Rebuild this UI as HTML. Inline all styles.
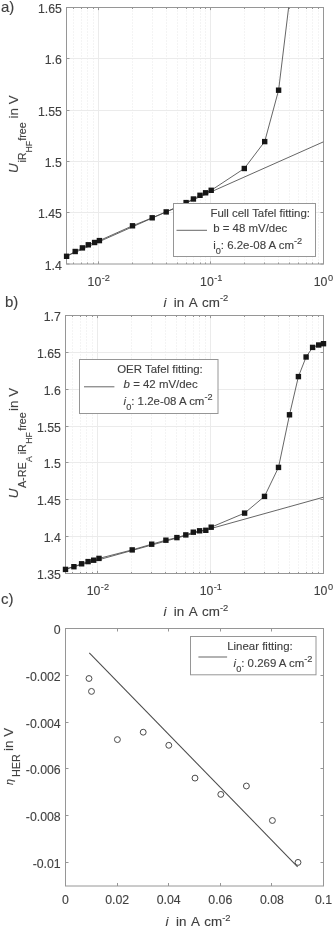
<!DOCTYPE html>
<html><head><meta charset="utf-8"><title>Tafel fitting</title>
<style>
html,body{margin:0;padding:0;background:#fff;}
svg{display:block;font-family:"Liberation Sans",sans-serif;filter:grayscale(1);}
text{stroke:#404040;stroke-width:0.22px;stroke-opacity:0.55;}
</style></head>
<body>
<svg width="335" height="928" viewBox="0 0 335 928">
<rect x="0" y="0" width="335" height="928" fill="#fff"/>
<line x1="73.50" y1="7.5" x2="73.50" y2="264" stroke="#e9e9e9" stroke-width="1" stroke-dasharray="1 2"/>
<line x1="81.50" y1="7.5" x2="81.50" y2="264" stroke="#e9e9e9" stroke-width="1" stroke-dasharray="1 2"/>
<line x1="87.50" y1="7.5" x2="87.50" y2="264" stroke="#e9e9e9" stroke-width="1" stroke-dasharray="1 2"/>
<line x1="93.50" y1="7.5" x2="93.50" y2="264" stroke="#e9e9e9" stroke-width="1" stroke-dasharray="1 2"/>
<line x1="132.50" y1="7.5" x2="132.50" y2="264" stroke="#e9e9e9" stroke-width="1" stroke-dasharray="1 2"/>
<line x1="152.50" y1="7.5" x2="152.50" y2="264" stroke="#e9e9e9" stroke-width="1" stroke-dasharray="1 2"/>
<line x1="166.50" y1="7.5" x2="166.50" y2="264" stroke="#e9e9e9" stroke-width="1" stroke-dasharray="1 2"/>
<line x1="177.50" y1="7.5" x2="177.50" y2="264" stroke="#e9e9e9" stroke-width="1" stroke-dasharray="1 2"/>
<line x1="186.50" y1="7.5" x2="186.50" y2="264" stroke="#e9e9e9" stroke-width="1" stroke-dasharray="1 2"/>
<line x1="193.50" y1="7.5" x2="193.50" y2="264" stroke="#e9e9e9" stroke-width="1" stroke-dasharray="1 2"/>
<line x1="200.50" y1="7.5" x2="200.50" y2="264" stroke="#e9e9e9" stroke-width="1" stroke-dasharray="1 2"/>
<line x1="205.50" y1="7.5" x2="205.50" y2="264" stroke="#e9e9e9" stroke-width="1" stroke-dasharray="1 2"/>
<line x1="244.50" y1="7.5" x2="244.50" y2="264" stroke="#e9e9e9" stroke-width="1" stroke-dasharray="1 2"/>
<line x1="264.50" y1="7.5" x2="264.50" y2="264" stroke="#e9e9e9" stroke-width="1" stroke-dasharray="1 2"/>
<line x1="278.50" y1="7.5" x2="278.50" y2="264" stroke="#e9e9e9" stroke-width="1" stroke-dasharray="1 2"/>
<line x1="289.50" y1="7.5" x2="289.50" y2="264" stroke="#e9e9e9" stroke-width="1" stroke-dasharray="1 2"/>
<line x1="298.50" y1="7.5" x2="298.50" y2="264" stroke="#e9e9e9" stroke-width="1" stroke-dasharray="1 2"/>
<line x1="306.50" y1="7.5" x2="306.50" y2="264" stroke="#e9e9e9" stroke-width="1" stroke-dasharray="1 2"/>
<line x1="312.50" y1="7.5" x2="312.50" y2="264" stroke="#e9e9e9" stroke-width="1" stroke-dasharray="1 2"/>
<line x1="318.50" y1="7.5" x2="318.50" y2="264" stroke="#e9e9e9" stroke-width="1" stroke-dasharray="1 2"/>
<line x1="98.50" y1="7.5" x2="98.50" y2="264" stroke="#ebebeb" stroke-width="1"/>
<line x1="210.50" y1="7.5" x2="210.50" y2="264" stroke="#ebebeb" stroke-width="1"/>
<line x1="66.5" y1="212.50" x2="323.5" y2="212.50" stroke="#ebebeb" stroke-width="1"/>
<line x1="66.5" y1="161.50" x2="323.5" y2="161.50" stroke="#ebebeb" stroke-width="1"/>
<line x1="66.5" y1="110.50" x2="323.5" y2="110.50" stroke="#ebebeb" stroke-width="1"/>
<line x1="66.5" y1="58.50" x2="323.5" y2="58.50" stroke="#ebebeb" stroke-width="1"/>
<rect x="66.5" y="7.5" width="257.0" height="256.5" fill="none" stroke="#969696" stroke-width="1"/>
<line x1="73.50" y1="264" x2="73.50" y2="262.5" stroke="#969696" stroke-width="1"/>
<line x1="73.50" y1="7.5" x2="73.50" y2="9.0" stroke="#969696" stroke-width="1"/>
<line x1="81.50" y1="264" x2="81.50" y2="262.5" stroke="#969696" stroke-width="1"/>
<line x1="81.50" y1="7.5" x2="81.50" y2="9.0" stroke="#969696" stroke-width="1"/>
<line x1="87.50" y1="264" x2="87.50" y2="262.5" stroke="#969696" stroke-width="1"/>
<line x1="87.50" y1="7.5" x2="87.50" y2="9.0" stroke="#969696" stroke-width="1"/>
<line x1="93.50" y1="264" x2="93.50" y2="262.5" stroke="#969696" stroke-width="1"/>
<line x1="93.50" y1="7.5" x2="93.50" y2="9.0" stroke="#969696" stroke-width="1"/>
<line x1="98.50" y1="264" x2="98.50" y2="261.4" stroke="#969696" stroke-width="1"/>
<line x1="98.50" y1="7.5" x2="98.50" y2="10.1" stroke="#969696" stroke-width="1"/>
<line x1="132.50" y1="264" x2="132.50" y2="262.5" stroke="#969696" stroke-width="1"/>
<line x1="132.50" y1="7.5" x2="132.50" y2="9.0" stroke="#969696" stroke-width="1"/>
<line x1="152.50" y1="264" x2="152.50" y2="262.5" stroke="#969696" stroke-width="1"/>
<line x1="152.50" y1="7.5" x2="152.50" y2="9.0" stroke="#969696" stroke-width="1"/>
<line x1="166.50" y1="264" x2="166.50" y2="262.5" stroke="#969696" stroke-width="1"/>
<line x1="166.50" y1="7.5" x2="166.50" y2="9.0" stroke="#969696" stroke-width="1"/>
<line x1="177.50" y1="264" x2="177.50" y2="262.5" stroke="#969696" stroke-width="1"/>
<line x1="177.50" y1="7.5" x2="177.50" y2="9.0" stroke="#969696" stroke-width="1"/>
<line x1="186.50" y1="264" x2="186.50" y2="262.5" stroke="#969696" stroke-width="1"/>
<line x1="186.50" y1="7.5" x2="186.50" y2="9.0" stroke="#969696" stroke-width="1"/>
<line x1="193.50" y1="264" x2="193.50" y2="262.5" stroke="#969696" stroke-width="1"/>
<line x1="193.50" y1="7.5" x2="193.50" y2="9.0" stroke="#969696" stroke-width="1"/>
<line x1="200.50" y1="264" x2="200.50" y2="262.5" stroke="#969696" stroke-width="1"/>
<line x1="200.50" y1="7.5" x2="200.50" y2="9.0" stroke="#969696" stroke-width="1"/>
<line x1="205.50" y1="264" x2="205.50" y2="262.5" stroke="#969696" stroke-width="1"/>
<line x1="205.50" y1="7.5" x2="205.50" y2="9.0" stroke="#969696" stroke-width="1"/>
<line x1="210.50" y1="264" x2="210.50" y2="261.4" stroke="#969696" stroke-width="1"/>
<line x1="210.50" y1="7.5" x2="210.50" y2="10.1" stroke="#969696" stroke-width="1"/>
<line x1="244.50" y1="264" x2="244.50" y2="262.5" stroke="#969696" stroke-width="1"/>
<line x1="244.50" y1="7.5" x2="244.50" y2="9.0" stroke="#969696" stroke-width="1"/>
<line x1="264.50" y1="264" x2="264.50" y2="262.5" stroke="#969696" stroke-width="1"/>
<line x1="264.50" y1="7.5" x2="264.50" y2="9.0" stroke="#969696" stroke-width="1"/>
<line x1="278.50" y1="264" x2="278.50" y2="262.5" stroke="#969696" stroke-width="1"/>
<line x1="278.50" y1="7.5" x2="278.50" y2="9.0" stroke="#969696" stroke-width="1"/>
<line x1="289.50" y1="264" x2="289.50" y2="262.5" stroke="#969696" stroke-width="1"/>
<line x1="289.50" y1="7.5" x2="289.50" y2="9.0" stroke="#969696" stroke-width="1"/>
<line x1="298.50" y1="264" x2="298.50" y2="262.5" stroke="#969696" stroke-width="1"/>
<line x1="298.50" y1="7.5" x2="298.50" y2="9.0" stroke="#969696" stroke-width="1"/>
<line x1="306.50" y1="264" x2="306.50" y2="262.5" stroke="#969696" stroke-width="1"/>
<line x1="306.50" y1="7.5" x2="306.50" y2="9.0" stroke="#969696" stroke-width="1"/>
<line x1="312.50" y1="264" x2="312.50" y2="262.5" stroke="#969696" stroke-width="1"/>
<line x1="312.50" y1="7.5" x2="312.50" y2="9.0" stroke="#969696" stroke-width="1"/>
<line x1="318.50" y1="264" x2="318.50" y2="262.5" stroke="#969696" stroke-width="1"/>
<line x1="318.50" y1="7.5" x2="318.50" y2="9.0" stroke="#969696" stroke-width="1"/>
<line x1="323.50" y1="264" x2="323.50" y2="261.4" stroke="#969696" stroke-width="1"/>
<line x1="323.50" y1="7.5" x2="323.50" y2="10.1" stroke="#969696" stroke-width="1"/>
<line x1="66.5" y1="264.00" x2="69.5" y2="264.00" stroke="#969696" stroke-width="1"/>
<line x1="323.5" y1="264.00" x2="320.5" y2="264.00" stroke="#969696" stroke-width="1"/>
<text x="61.9" y="269.50" font-size="12.3" text-anchor="end" fill="#404040">1.4</text>
<line x1="66.5" y1="212.50" x2="69.5" y2="212.50" stroke="#969696" stroke-width="1"/>
<line x1="323.5" y1="212.50" x2="320.5" y2="212.50" stroke="#969696" stroke-width="1"/>
<text x="61.9" y="218.20" font-size="12.3" text-anchor="end" fill="#404040">1.45</text>
<line x1="66.5" y1="161.50" x2="69.5" y2="161.50" stroke="#969696" stroke-width="1"/>
<line x1="323.5" y1="161.50" x2="320.5" y2="161.50" stroke="#969696" stroke-width="1"/>
<text x="61.9" y="166.90" font-size="12.3" text-anchor="end" fill="#404040">1.5</text>
<line x1="66.5" y1="110.50" x2="69.5" y2="110.50" stroke="#969696" stroke-width="1"/>
<line x1="323.5" y1="110.50" x2="320.5" y2="110.50" stroke="#969696" stroke-width="1"/>
<text x="61.9" y="115.60" font-size="12.3" text-anchor="end" fill="#404040">1.55</text>
<line x1="66.5" y1="58.50" x2="69.5" y2="58.50" stroke="#969696" stroke-width="1"/>
<line x1="323.5" y1="58.50" x2="320.5" y2="58.50" stroke="#969696" stroke-width="1"/>
<text x="61.9" y="64.30" font-size="12.3" text-anchor="end" fill="#404040">1.6</text>
<line x1="66.5" y1="7.50" x2="69.5" y2="7.50" stroke="#969696" stroke-width="1"/>
<line x1="323.5" y1="7.50" x2="320.5" y2="7.50" stroke="#969696" stroke-width="1"/>
<text x="61.9" y="13.00" font-size="12.3" text-anchor="end" fill="#404040">1.65</text>
<text x="87.56" y="285.9" font-size="12.3" fill="#404040">10<tspan dx="0.5" dy="-5.1" font-size="9.2">-2</tspan></text>
<text x="200.08" y="285.9" font-size="12.3" fill="#404040">10<tspan dx="0.5" dy="-5.1" font-size="9.2">-1</tspan></text>
<text x="313.70" y="285.9" font-size="12.3" fill="#404040">10<tspan dx="0.5" dy="-5.1" font-size="9.2">0</tspan></text>
<text x="163.40" y="306.8" font-size="13.4" fill="#404040" font-style="italic">i</text>
<text x="173.80" y="306.8" font-size="13.4" fill="#404040" word-spacing="1.5">in A cm<tspan dy="-5.4" font-size="9.4">-2</tspan></text>
<clipPath id="c1"><rect x="66.5" y="7.5" width="257.0" height="256.5"/></clipPath>
<g clip-path="url(#c1)">
<line x1="66.5" y1="256.2" x2="323.5" y2="141.8" stroke="#4a4a4a" stroke-width="0.85"/>
<polyline points="66.6,256.3 75.2,251.5 82.4,247.9 88.3,244.8 94.6,242.5 99.4,240.6 132.5,225.8 152.2,217.8 166.2,211.9 177.3,207.3 186.1,202.6 193.4,199.0 200.0,195.3 205.6,192.8 211.2,190.3 244.3,168.5 264.7,141.6 278.6,90.2 289.6,-0.5" fill="none" stroke="#4a4a4a" stroke-width="0.85"/>
</g>
<rect x="63.90" y="253.60" width="5.4" height="5.4" fill="#161616"/>
<rect x="72.50" y="248.80" width="5.4" height="5.4" fill="#161616"/>
<rect x="79.70" y="245.20" width="5.4" height="5.4" fill="#161616"/>
<rect x="85.60" y="242.10" width="5.4" height="5.4" fill="#161616"/>
<rect x="91.90" y="239.80" width="5.4" height="5.4" fill="#161616"/>
<rect x="96.70" y="237.90" width="5.4" height="5.4" fill="#161616"/>
<rect x="129.80" y="223.10" width="5.4" height="5.4" fill="#161616"/>
<rect x="149.50" y="215.10" width="5.4" height="5.4" fill="#161616"/>
<rect x="163.50" y="209.20" width="5.4" height="5.4" fill="#161616"/>
<rect x="174.60" y="204.60" width="5.4" height="5.4" fill="#161616"/>
<rect x="183.40" y="199.90" width="5.4" height="5.4" fill="#161616"/>
<rect x="190.70" y="196.30" width="5.4" height="5.4" fill="#161616"/>
<rect x="197.30" y="192.60" width="5.4" height="5.4" fill="#161616"/>
<rect x="202.90" y="190.10" width="5.4" height="5.4" fill="#161616"/>
<rect x="208.50" y="187.60" width="5.4" height="5.4" fill="#161616"/>
<rect x="241.60" y="165.80" width="5.4" height="5.4" fill="#161616"/>
<rect x="262.00" y="138.90" width="5.4" height="5.4" fill="#161616"/>
<rect x="275.90" y="87.50" width="5.4" height="5.4" fill="#161616"/>
<line x1="72.50" y1="315.5" x2="72.50" y2="573.5" stroke="#e9e9e9" stroke-width="1" stroke-dasharray="1 2"/>
<line x1="80.50" y1="315.5" x2="80.50" y2="573.5" stroke="#e9e9e9" stroke-width="1" stroke-dasharray="1 2"/>
<line x1="86.50" y1="315.5" x2="86.50" y2="573.5" stroke="#e9e9e9" stroke-width="1" stroke-dasharray="1 2"/>
<line x1="92.50" y1="315.5" x2="92.50" y2="573.5" stroke="#e9e9e9" stroke-width="1" stroke-dasharray="1 2"/>
<line x1="131.50" y1="315.5" x2="131.50" y2="573.5" stroke="#e9e9e9" stroke-width="1" stroke-dasharray="1 2"/>
<line x1="151.50" y1="315.5" x2="151.50" y2="573.5" stroke="#e9e9e9" stroke-width="1" stroke-dasharray="1 2"/>
<line x1="165.50" y1="315.5" x2="165.50" y2="573.5" stroke="#e9e9e9" stroke-width="1" stroke-dasharray="1 2"/>
<line x1="176.50" y1="315.5" x2="176.50" y2="573.5" stroke="#e9e9e9" stroke-width="1" stroke-dasharray="1 2"/>
<line x1="185.50" y1="315.5" x2="185.50" y2="573.5" stroke="#e9e9e9" stroke-width="1" stroke-dasharray="1 2"/>
<line x1="193.50" y1="315.5" x2="193.50" y2="573.5" stroke="#e9e9e9" stroke-width="1" stroke-dasharray="1 2"/>
<line x1="199.50" y1="315.5" x2="199.50" y2="573.5" stroke="#e9e9e9" stroke-width="1" stroke-dasharray="1 2"/>
<line x1="205.50" y1="315.5" x2="205.50" y2="573.5" stroke="#e9e9e9" stroke-width="1" stroke-dasharray="1 2"/>
<line x1="244.50" y1="315.5" x2="244.50" y2="573.5" stroke="#e9e9e9" stroke-width="1" stroke-dasharray="1 2"/>
<line x1="264.50" y1="315.5" x2="264.50" y2="573.5" stroke="#e9e9e9" stroke-width="1" stroke-dasharray="1 2"/>
<line x1="278.50" y1="315.5" x2="278.50" y2="573.5" stroke="#e9e9e9" stroke-width="1" stroke-dasharray="1 2"/>
<line x1="289.50" y1="315.5" x2="289.50" y2="573.5" stroke="#e9e9e9" stroke-width="1" stroke-dasharray="1 2"/>
<line x1="298.50" y1="315.5" x2="298.50" y2="573.5" stroke="#e9e9e9" stroke-width="1" stroke-dasharray="1 2"/>
<line x1="306.50" y1="315.5" x2="306.50" y2="573.5" stroke="#e9e9e9" stroke-width="1" stroke-dasharray="1 2"/>
<line x1="312.50" y1="315.5" x2="312.50" y2="573.5" stroke="#e9e9e9" stroke-width="1" stroke-dasharray="1 2"/>
<line x1="318.50" y1="315.5" x2="318.50" y2="573.5" stroke="#e9e9e9" stroke-width="1" stroke-dasharray="1 2"/>
<line x1="97.50" y1="315.5" x2="97.50" y2="573.5" stroke="#ebebeb" stroke-width="1"/>
<line x1="210.50" y1="315.5" x2="210.50" y2="573.5" stroke="#ebebeb" stroke-width="1"/>
<line x1="65.5" y1="536.50" x2="323.5" y2="536.50" stroke="#ebebeb" stroke-width="1"/>
<line x1="65.5" y1="499.50" x2="323.5" y2="499.50" stroke="#ebebeb" stroke-width="1"/>
<line x1="65.5" y1="462.50" x2="323.5" y2="462.50" stroke="#ebebeb" stroke-width="1"/>
<line x1="65.5" y1="426.50" x2="323.5" y2="426.50" stroke="#ebebeb" stroke-width="1"/>
<line x1="65.5" y1="389.50" x2="323.5" y2="389.50" stroke="#ebebeb" stroke-width="1"/>
<line x1="65.5" y1="352.50" x2="323.5" y2="352.50" stroke="#ebebeb" stroke-width="1"/>
<rect x="65.5" y="315.5" width="258.0" height="258.0" fill="none" stroke="#969696" stroke-width="1"/>
<line x1="72.50" y1="573.5" x2="72.50" y2="572.0" stroke="#969696" stroke-width="1"/>
<line x1="72.50" y1="315.5" x2="72.50" y2="317.0" stroke="#969696" stroke-width="1"/>
<line x1="80.50" y1="573.5" x2="80.50" y2="572.0" stroke="#969696" stroke-width="1"/>
<line x1="80.50" y1="315.5" x2="80.50" y2="317.0" stroke="#969696" stroke-width="1"/>
<line x1="86.50" y1="573.5" x2="86.50" y2="572.0" stroke="#969696" stroke-width="1"/>
<line x1="86.50" y1="315.5" x2="86.50" y2="317.0" stroke="#969696" stroke-width="1"/>
<line x1="92.50" y1="573.5" x2="92.50" y2="572.0" stroke="#969696" stroke-width="1"/>
<line x1="92.50" y1="315.5" x2="92.50" y2="317.0" stroke="#969696" stroke-width="1"/>
<line x1="97.50" y1="573.5" x2="97.50" y2="570.9" stroke="#969696" stroke-width="1"/>
<line x1="97.50" y1="315.5" x2="97.50" y2="318.1" stroke="#969696" stroke-width="1"/>
<line x1="131.50" y1="573.5" x2="131.50" y2="572.0" stroke="#969696" stroke-width="1"/>
<line x1="131.50" y1="315.5" x2="131.50" y2="317.0" stroke="#969696" stroke-width="1"/>
<line x1="151.50" y1="573.5" x2="151.50" y2="572.0" stroke="#969696" stroke-width="1"/>
<line x1="151.50" y1="315.5" x2="151.50" y2="317.0" stroke="#969696" stroke-width="1"/>
<line x1="165.50" y1="573.5" x2="165.50" y2="572.0" stroke="#969696" stroke-width="1"/>
<line x1="165.50" y1="315.5" x2="165.50" y2="317.0" stroke="#969696" stroke-width="1"/>
<line x1="176.50" y1="573.5" x2="176.50" y2="572.0" stroke="#969696" stroke-width="1"/>
<line x1="176.50" y1="315.5" x2="176.50" y2="317.0" stroke="#969696" stroke-width="1"/>
<line x1="185.50" y1="573.5" x2="185.50" y2="572.0" stroke="#969696" stroke-width="1"/>
<line x1="185.50" y1="315.5" x2="185.50" y2="317.0" stroke="#969696" stroke-width="1"/>
<line x1="193.50" y1="573.5" x2="193.50" y2="572.0" stroke="#969696" stroke-width="1"/>
<line x1="193.50" y1="315.5" x2="193.50" y2="317.0" stroke="#969696" stroke-width="1"/>
<line x1="199.50" y1="573.5" x2="199.50" y2="572.0" stroke="#969696" stroke-width="1"/>
<line x1="199.50" y1="315.5" x2="199.50" y2="317.0" stroke="#969696" stroke-width="1"/>
<line x1="205.50" y1="573.5" x2="205.50" y2="572.0" stroke="#969696" stroke-width="1"/>
<line x1="205.50" y1="315.5" x2="205.50" y2="317.0" stroke="#969696" stroke-width="1"/>
<line x1="210.50" y1="573.5" x2="210.50" y2="570.9" stroke="#969696" stroke-width="1"/>
<line x1="210.50" y1="315.5" x2="210.50" y2="318.1" stroke="#969696" stroke-width="1"/>
<line x1="244.50" y1="573.5" x2="244.50" y2="572.0" stroke="#969696" stroke-width="1"/>
<line x1="244.50" y1="315.5" x2="244.50" y2="317.0" stroke="#969696" stroke-width="1"/>
<line x1="264.50" y1="573.5" x2="264.50" y2="572.0" stroke="#969696" stroke-width="1"/>
<line x1="264.50" y1="315.5" x2="264.50" y2="317.0" stroke="#969696" stroke-width="1"/>
<line x1="278.50" y1="573.5" x2="278.50" y2="572.0" stroke="#969696" stroke-width="1"/>
<line x1="278.50" y1="315.5" x2="278.50" y2="317.0" stroke="#969696" stroke-width="1"/>
<line x1="289.50" y1="573.5" x2="289.50" y2="572.0" stroke="#969696" stroke-width="1"/>
<line x1="289.50" y1="315.5" x2="289.50" y2="317.0" stroke="#969696" stroke-width="1"/>
<line x1="298.50" y1="573.5" x2="298.50" y2="572.0" stroke="#969696" stroke-width="1"/>
<line x1="298.50" y1="315.5" x2="298.50" y2="317.0" stroke="#969696" stroke-width="1"/>
<line x1="306.50" y1="573.5" x2="306.50" y2="572.0" stroke="#969696" stroke-width="1"/>
<line x1="306.50" y1="315.5" x2="306.50" y2="317.0" stroke="#969696" stroke-width="1"/>
<line x1="312.50" y1="573.5" x2="312.50" y2="572.0" stroke="#969696" stroke-width="1"/>
<line x1="312.50" y1="315.5" x2="312.50" y2="317.0" stroke="#969696" stroke-width="1"/>
<line x1="318.50" y1="573.5" x2="318.50" y2="572.0" stroke="#969696" stroke-width="1"/>
<line x1="318.50" y1="315.5" x2="318.50" y2="317.0" stroke="#969696" stroke-width="1"/>
<line x1="323.50" y1="573.5" x2="323.50" y2="570.9" stroke="#969696" stroke-width="1"/>
<line x1="323.50" y1="315.5" x2="323.50" y2="318.1" stroke="#969696" stroke-width="1"/>
<line x1="65.5" y1="573.50" x2="68.5" y2="573.50" stroke="#969696" stroke-width="1"/>
<line x1="323.5" y1="573.50" x2="320.5" y2="573.50" stroke="#969696" stroke-width="1"/>
<text x="60.9" y="579.00" font-size="12.3" text-anchor="end" fill="#404040">1.35</text>
<line x1="65.5" y1="536.50" x2="68.5" y2="536.50" stroke="#969696" stroke-width="1"/>
<line x1="323.5" y1="536.50" x2="320.5" y2="536.50" stroke="#969696" stroke-width="1"/>
<text x="60.9" y="542.14" font-size="12.3" text-anchor="end" fill="#404040">1.4</text>
<line x1="65.5" y1="499.50" x2="68.5" y2="499.50" stroke="#969696" stroke-width="1"/>
<line x1="323.5" y1="499.50" x2="320.5" y2="499.50" stroke="#969696" stroke-width="1"/>
<text x="60.9" y="505.29" font-size="12.3" text-anchor="end" fill="#404040">1.45</text>
<line x1="65.5" y1="462.50" x2="68.5" y2="462.50" stroke="#969696" stroke-width="1"/>
<line x1="323.5" y1="462.50" x2="320.5" y2="462.50" stroke="#969696" stroke-width="1"/>
<text x="60.9" y="468.43" font-size="12.3" text-anchor="end" fill="#404040">1.5</text>
<line x1="65.5" y1="426.50" x2="68.5" y2="426.50" stroke="#969696" stroke-width="1"/>
<line x1="323.5" y1="426.50" x2="320.5" y2="426.50" stroke="#969696" stroke-width="1"/>
<text x="60.9" y="431.57" font-size="12.3" text-anchor="end" fill="#404040">1.55</text>
<line x1="65.5" y1="389.50" x2="68.5" y2="389.50" stroke="#969696" stroke-width="1"/>
<line x1="323.5" y1="389.50" x2="320.5" y2="389.50" stroke="#969696" stroke-width="1"/>
<text x="60.9" y="394.71" font-size="12.3" text-anchor="end" fill="#404040">1.6</text>
<line x1="65.5" y1="352.50" x2="68.5" y2="352.50" stroke="#969696" stroke-width="1"/>
<line x1="323.5" y1="352.50" x2="320.5" y2="352.50" stroke="#969696" stroke-width="1"/>
<text x="60.9" y="357.86" font-size="12.3" text-anchor="end" fill="#404040">1.65</text>
<line x1="65.5" y1="315.50" x2="68.5" y2="315.50" stroke="#969696" stroke-width="1"/>
<line x1="323.5" y1="315.50" x2="320.5" y2="315.50" stroke="#969696" stroke-width="1"/>
<text x="60.9" y="321.00" font-size="12.3" text-anchor="end" fill="#404040">1.7</text>
<text x="86.68" y="595.4" font-size="12.3" fill="#404040">10<tspan dx="0.5" dy="-5.1" font-size="9.2">-2</tspan></text>
<text x="199.64" y="595.4" font-size="12.3" fill="#404040">10<tspan dx="0.5" dy="-5.1" font-size="9.2">-1</tspan></text>
<text x="313.70" y="595.4" font-size="12.3" fill="#404040">10<tspan dx="0.5" dy="-5.1" font-size="9.2">0</tspan></text>
<text x="163.40" y="616.3" font-size="13.4" fill="#404040" font-style="italic">i</text>
<text x="173.80" y="616.3" font-size="13.4" fill="#404040" word-spacing="1.5">in A cm<tspan dy="-5.4" font-size="9.4">-2</tspan></text>
<clipPath id="c2"><rect x="65.5" y="315.5" width="258.0" height="258.0"/></clipPath>
<g clip-path="url(#c2)">
<line x1="65.5" y1="569.0" x2="323.5" y2="497.2" stroke="#4a4a4a" stroke-width="0.85"/>
<polyline points="65.5,569.4 73.9,566.7 81.6,563.8 88.1,561.6 93.7,560.2 99.0,558.4 132.2,549.9 151.7,544.2 165.9,540.2 176.9,537.6 185.8,534.9 193.3,532.2 199.6,530.8 205.8,530.3 211.2,527.2 244.6,513.1 264.5,496.4 278.5,467.4 289.5,414.8 298.4,376.6 306.1,357.0 312.6,347.4 318.7,345.0 323.5,343.7" fill="none" stroke="#4a4a4a" stroke-width="0.85"/>
</g>
<rect x="62.80" y="566.70" width="5.4" height="5.4" fill="#161616"/>
<rect x="71.20" y="564.00" width="5.4" height="5.4" fill="#161616"/>
<rect x="78.90" y="561.10" width="5.4" height="5.4" fill="#161616"/>
<rect x="85.40" y="558.90" width="5.4" height="5.4" fill="#161616"/>
<rect x="91.00" y="557.50" width="5.4" height="5.4" fill="#161616"/>
<rect x="96.30" y="555.70" width="5.4" height="5.4" fill="#161616"/>
<rect x="129.50" y="547.20" width="5.4" height="5.4" fill="#161616"/>
<rect x="149.00" y="541.50" width="5.4" height="5.4" fill="#161616"/>
<rect x="163.20" y="537.50" width="5.4" height="5.4" fill="#161616"/>
<rect x="174.20" y="534.90" width="5.4" height="5.4" fill="#161616"/>
<rect x="183.10" y="532.20" width="5.4" height="5.4" fill="#161616"/>
<rect x="190.60" y="529.50" width="5.4" height="5.4" fill="#161616"/>
<rect x="196.90" y="528.10" width="5.4" height="5.4" fill="#161616"/>
<rect x="203.10" y="527.60" width="5.4" height="5.4" fill="#161616"/>
<rect x="208.50" y="524.50" width="5.4" height="5.4" fill="#161616"/>
<rect x="241.90" y="510.40" width="5.4" height="5.4" fill="#161616"/>
<rect x="261.80" y="493.70" width="5.4" height="5.4" fill="#161616"/>
<rect x="275.80" y="464.70" width="5.4" height="5.4" fill="#161616"/>
<rect x="286.80" y="412.10" width="5.4" height="5.4" fill="#161616"/>
<rect x="295.70" y="373.90" width="5.4" height="5.4" fill="#161616"/>
<rect x="303.40" y="354.30" width="5.4" height="5.4" fill="#161616"/>
<rect x="309.90" y="344.70" width="5.4" height="5.4" fill="#161616"/>
<rect x="316.00" y="342.30" width="5.4" height="5.4" fill="#161616"/>
<rect x="320.80" y="341.00" width="5.4" height="5.4" fill="#161616"/>
<rect x="65.5" y="628.5" width="258.0" height="257.5" fill="none" stroke="#969696" stroke-width="1"/>
<line x1="65.50" y1="886" x2="65.50" y2="883" stroke="#969696" stroke-width="1"/>
<line x1="65.50" y1="628.5" x2="65.50" y2="631.5" stroke="#969696" stroke-width="1"/>
<text x="65.50" y="903.8" font-size="12.3" text-anchor="middle" fill="#404040">0</text>
<line x1="117.50" y1="886" x2="117.50" y2="883" stroke="#969696" stroke-width="1"/>
<line x1="117.50" y1="628.5" x2="117.50" y2="631.5" stroke="#969696" stroke-width="1"/>
<text x="117.10" y="903.8" font-size="12.3" text-anchor="middle" fill="#404040">0.02</text>
<line x1="168.50" y1="886" x2="168.50" y2="883" stroke="#969696" stroke-width="1"/>
<line x1="168.50" y1="628.5" x2="168.50" y2="631.5" stroke="#969696" stroke-width="1"/>
<text x="168.70" y="903.8" font-size="12.3" text-anchor="middle" fill="#404040">0.04</text>
<line x1="220.50" y1="886" x2="220.50" y2="883" stroke="#969696" stroke-width="1"/>
<line x1="220.50" y1="628.5" x2="220.50" y2="631.5" stroke="#969696" stroke-width="1"/>
<text x="220.30" y="903.8" font-size="12.3" text-anchor="middle" fill="#404040">0.06</text>
<line x1="271.50" y1="886" x2="271.50" y2="883" stroke="#969696" stroke-width="1"/>
<line x1="271.50" y1="628.5" x2="271.50" y2="631.5" stroke="#969696" stroke-width="1"/>
<text x="271.90" y="903.8" font-size="12.3" text-anchor="middle" fill="#404040">0.08</text>
<line x1="323.50" y1="886" x2="323.50" y2="883" stroke="#969696" stroke-width="1"/>
<line x1="323.50" y1="628.5" x2="323.50" y2="631.5" stroke="#969696" stroke-width="1"/>
<text x="323.50" y="903.8" font-size="12.3" text-anchor="middle" fill="#404040">0.1</text>
<line x1="65.5" y1="628.50" x2="68.5" y2="628.50" stroke="#969696" stroke-width="1"/>
<line x1="323.5" y1="628.50" x2="320.5" y2="628.50" stroke="#969696" stroke-width="1"/>
<text x="60.7" y="634.00" font-size="12.3" text-anchor="end" fill="#404040">0</text>
<line x1="65.5" y1="675.50" x2="68.5" y2="675.50" stroke="#969696" stroke-width="1"/>
<line x1="323.5" y1="675.50" x2="320.5" y2="675.50" stroke="#969696" stroke-width="1"/>
<text x="60.7" y="680.82" font-size="12.3" text-anchor="end" fill="#404040">-0.002</text>
<line x1="65.5" y1="722.50" x2="68.5" y2="722.50" stroke="#969696" stroke-width="1"/>
<line x1="323.5" y1="722.50" x2="320.5" y2="722.50" stroke="#969696" stroke-width="1"/>
<text x="60.7" y="727.64" font-size="12.3" text-anchor="end" fill="#404040">-0.004</text>
<line x1="65.5" y1="768.50" x2="68.5" y2="768.50" stroke="#969696" stroke-width="1"/>
<line x1="323.5" y1="768.50" x2="320.5" y2="768.50" stroke="#969696" stroke-width="1"/>
<text x="60.7" y="774.45" font-size="12.3" text-anchor="end" fill="#404040">-0.006</text>
<line x1="65.5" y1="815.50" x2="68.5" y2="815.50" stroke="#969696" stroke-width="1"/>
<line x1="323.5" y1="815.50" x2="320.5" y2="815.50" stroke="#969696" stroke-width="1"/>
<text x="60.7" y="821.27" font-size="12.3" text-anchor="end" fill="#404040">-0.008</text>
<line x1="65.5" y1="862.50" x2="68.5" y2="862.50" stroke="#969696" stroke-width="1"/>
<line x1="323.5" y1="862.50" x2="320.5" y2="862.50" stroke="#969696" stroke-width="1"/>
<text x="60.7" y="868.09" font-size="12.3" text-anchor="end" fill="#404040">-0.01</text>
<text x="165.60" y="926.2" font-size="13.4" fill="#404040" font-style="italic">i</text>
<text x="176.00" y="926.2" font-size="13.4" fill="#404040" word-spacing="1.5">in A cm<tspan dy="-5.4" font-size="9.4">-2</tspan></text>
<line x1="89.3" y1="652.9" x2="297.6" y2="866.8" stroke="#4a4a4a" stroke-width="1.05"/>
<circle cx="89.0" cy="678.5" r="2.95" fill="none" stroke="#4a4a4a" stroke-width="1.0"/>
<circle cx="91.5" cy="691.4" r="2.95" fill="none" stroke="#4a4a4a" stroke-width="1.0"/>
<circle cx="117.4" cy="739.6" r="2.95" fill="none" stroke="#4a4a4a" stroke-width="1.0"/>
<circle cx="143.2" cy="732.2" r="2.95" fill="none" stroke="#4a4a4a" stroke-width="1.0"/>
<circle cx="168.8" cy="745.3" r="2.95" fill="none" stroke="#4a4a4a" stroke-width="1.0"/>
<circle cx="195.0" cy="778.1" r="2.95" fill="none" stroke="#4a4a4a" stroke-width="1.0"/>
<circle cx="220.8" cy="794.4" r="2.95" fill="none" stroke="#4a4a4a" stroke-width="1.0"/>
<circle cx="246.4" cy="786.0" r="2.95" fill="none" stroke="#4a4a4a" stroke-width="1.0"/>
<circle cx="272.4" cy="820.5" r="2.95" fill="none" stroke="#4a4a4a" stroke-width="1.0"/>
<circle cx="298" cy="862.4" r="2.95" fill="none" stroke="#4a4a4a" stroke-width="1.0"/>
<rect x="173.5" y="203.5" width="142.0" height="53.0" fill="#fff" stroke="#969696" stroke-width="1"/>
<line x1="176.5" y1="230.3" x2="207" y2="230.3" stroke="#4a4a4a" stroke-width="0.85"/>
<text x="210.4" y="216.5" font-size="11.45" fill="#404040" xml:space="preserve">Full cell Tafel fitting:</text>
<text x="213.2" y="231.8" font-size="11.45" fill="#404040" xml:space="preserve">b = 48 mV/dec</text>
<text x="213.2" y="248.8" font-size="11.45" fill="#404040" xml:space="preserve"><tspan>i</tspan><tspan dy="5.0" font-size="9.2">0</tspan><tspan dy="-5.0">: 6.2e-08 A cm</tspan><tspan dy="-4.8" font-size="9.2">-2</tspan></text>
<rect x="79.5" y="359.5" width="138.5" height="54.0" fill="#fff" stroke="#969696" stroke-width="1"/>
<line x1="84" y1="386.8" x2="114.4" y2="386.8" stroke="#4a4a4a" stroke-width="0.85"/>
<text x="117.2" y="372.8" font-size="11.45" fill="#404040" xml:space="preserve">OER Tafel fitting:</text>
<text x="123.6" y="387.6" font-size="11.45" fill="#404040" xml:space="preserve"><tspan font-style="italic">b</tspan> = 42 mV/dec</text>
<text x="123.6" y="404.6" font-size="11.45" fill="#404040" xml:space="preserve"><tspan font-style="italic">i</tspan><tspan dy="5.0" font-size="9.2">0</tspan><tspan dy="-5.0">: 1.2e-08 A cm</tspan><tspan dy="-4.8" font-size="9.2">-2</tspan></text>
<rect x="190.5" y="636.5" width="125.5" height="38.299999999999955" fill="#fff" stroke="#969696" stroke-width="1"/>
<line x1="198.4" y1="657" x2="227.1" y2="657" stroke="#4a4a4a" stroke-width="0.85"/>
<text x="227.2" y="649.8" font-size="11.45" fill="#404040" xml:space="preserve">Linear fitting:</text>
<text x="233.6" y="667" font-size="11.45" fill="#404040" xml:space="preserve"><tspan font-style="italic">i</tspan><tspan dy="5.0" font-size="9.2">0</tspan><tspan dy="-5.0">: 0.269 A cm</tspan><tspan dy="-4.8" font-size="9.2">-2</tspan></text>
<text transform="translate(18.40,173.10) rotate(-90)" font-size="13.4" fill="#404040" font-style="italic">U</text>
<text transform="translate(26.00,162.60) rotate(-90)" font-size="10.8" fill="#404040">iR</text>
<text transform="translate(31.60,152.40) rotate(-90)" font-size="8.7" fill="#404040">HF</text>
<text transform="translate(26.00,140.80) rotate(-90)" font-size="10.8" fill="#404040">free</text>
<text transform="translate(18.40,118.50) rotate(-90)" font-size="13.4" fill="#404040">in V</text>
<text transform="translate(18.40,498.20) rotate(-90)" font-size="13.4" fill="#404040" font-style="italic">U</text>
<text transform="translate(26.00,488.10) rotate(-90)" font-size="10.8" fill="#404040">A-RE</text>
<text transform="translate(31.60,461.90) rotate(-90)" font-size="8.7" fill="#404040">A</text>
<text transform="translate(26.00,454.30) rotate(-90)" font-size="10.8" fill="#404040">iR</text>
<text transform="translate(31.60,443.80) rotate(-90)" font-size="8.7" fill="#404040">HF</text>
<text transform="translate(26.00,430.80) rotate(-90)" font-size="10.8" fill="#404040">free</text>
<text transform="translate(18.40,411.00) rotate(-90)" font-size="13.4" fill="#404040">in V</text>
<text transform="translate(13.00,785.00) rotate(-90)" font-size="10.8" fill="#404040" font-style="italic">η</text>
<text transform="translate(20.30,777.00) rotate(-90)" font-size="10.8" fill="#404040">HER</text>
<text transform="translate(13.00,751.00) rotate(-90)" font-size="13.4" fill="#404040">in V</text>
<text x="1" y="12" font-size="15" fill="#404040">a)</text>
<text x="5" y="307" font-size="15" fill="#404040">b)</text>
<text x="1" y="604" font-size="15" fill="#404040">c)</text>
</svg>
</body></html>
